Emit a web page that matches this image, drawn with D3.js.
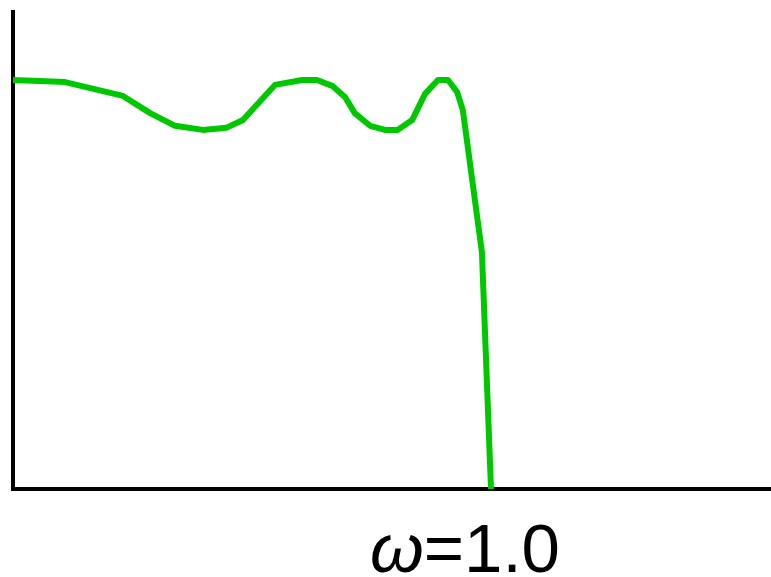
<!DOCTYPE html>
<html>
<head>
<meta charset="utf-8">
<script src="https://cdn.jsdelivr.net/npm/d3@7"></script>
<style>
  body { margin: 0; background: #fff; }
  svg { display: block; }
</style>
</head>
<body>
<div id="chart"></div>
<script>
// frequency (omega) and gain
var omega = [0, 0.109, 0.230, 0.287, 0.339, 0.397, 0.446, 0.481, 0.548, 0.605, 0.636,
             0.669, 0.695, 0.715, 0.747, 0.778, 0.805, 0.835, 0.862, 0.889, 0.910,
             0.929, 0.941, 0.981, 1.0];
var gain = [1.0, 0.995, 0.961, 0.919, 0.888, 0.878, 0.883, 0.902, 0.988, 1.0, 1.0,
            0.985, 0.958, 0.919, 0.888, 0.878, 0.878, 0.902, 0.966, 1.0, 1.0,
            0.971, 0.927, 0.579, 0.0];
var labelSymbol = "ω", labelValue = "=1.0";

var width = 771, height = 577;

var svg = d3.select("#chart").append("svg")
    .attr("width", width)
    .attr("height", height);

var x = d3.scaleLinear().domain([0, 1]).range([13, 491]);
var y = d3.scaleLinear().domain([0, 1]).range([489, 80]);

// axes: plain lines, no ticks
svg.append("line")
    .attr("x1", x(0)).attr("x2", x(0))
    .attr("y1", 10).attr("y2", y(0) + 2)
    .attr("stroke", "#000").attr("stroke-width", 4);

svg.append("line")
    .attr("x1", x(0) - 2).attr("x2", width)
    .attr("y1", y(0)).attr("y2", y(0))
    .attr("stroke", "#000").attr("stroke-width", 4);

var line = d3.line()
    .x(function (d) { return x(d[0]); })
    .y(function (d) { return y(d[1]); });

svg.append("path")
    .datum(d3.zip(omega, gain))
    .attr("d", line)
    .attr("fill", "none")
    .attr("stroke", "#00c800")
    .attr("stroke-width", 6)
    .attr("stroke-linejoin", "round");

// label sits right at the bottom edge, as in the original
var label = svg.append("text")
    .attr("x", 370)
    .attr("y", 572)
    .attr("font-family", "Liberation Sans, Arial, sans-serif")
    .attr("font-size", 69)
    .attr("fill", "#000");
label.append("tspan").attr("font-style", "italic").text(labelSymbol);
label.append("tspan").text(labelValue);
</script>
</body>
</html>
